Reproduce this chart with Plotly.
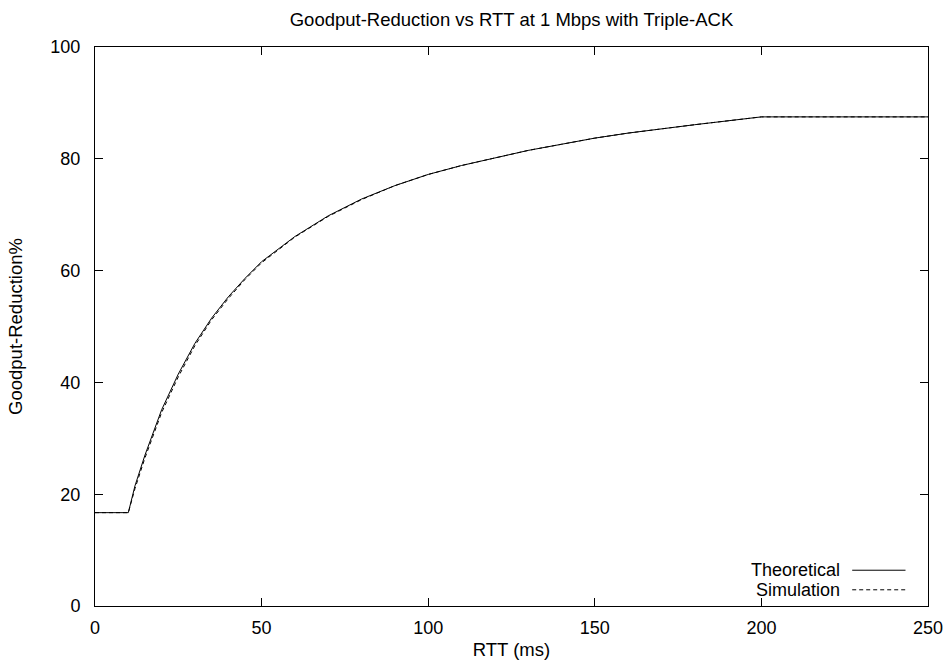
import plotly.graph_objects as go

rtt = [0, 10, 12, 15, 20, 25, 30, 35, 40, 45, 50, 60, 70, 80, 90, 100, 110, 120,
       130, 140, 150, 160, 170, 180, 190, 200, 250]
theoretical = [16.7, 16.7, 21.5, 27.0, 35.1, 41.5, 47.0, 51.5, 55.3, 58.6, 61.6, 66.1,
               69.8, 72.8, 75.2, 77.2, 78.8, 80.2, 81.5, 82.6, 83.7, 84.6, 85.4, 86.1,
               86.8, 87.5, 87.5]
simulation = [16.7, 16.7, 21.0, 26.5, 34.6, 41.0, 46.6, 51.2, 55.0, 58.4, 61.4, 66.0,
              69.7, 72.7, 75.2, 77.2, 78.8, 80.2, 81.5, 82.6, 83.7, 84.6, 85.4, 86.1,
              86.8, 87.5, 87.5]
series_names = ["Theoretical", "Simulation"]

font = "Liberation Sans, Arial, Helvetica, sans-serif"
fs_tick = 18
fs_text = 18.5

fig = go.Figure()
fig.add_trace(go.Scatter(x=rtt, y=theoretical, mode="lines", name=series_names[0],
                         line=dict(color="black", width=1), showlegend=False))
fig.add_trace(go.Scatter(x=rtt, y=simulation, mode="lines", name=series_names[1],
                         line=dict(color="black", width=1, dash="4px,3px"), showlegend=False))

# custom legend (text to the left of the line sample, as in the reference)
for i, (name, dash) in enumerate(zip(series_names, ["solid", "4px,3px"])):
    yy = 0.064 - i * 0.035
    fig.add_annotation(xref="paper", yref="paper", x=0.897, y=yy, text=name,
                       showarrow=False, xanchor="right", yanchor="middle",
                       font=dict(family=font, size=18, color="black"))
    fig.add_shape(type="line", xref="paper", yref="paper", x0=0.909, x1=0.973,
                  y0=yy, y1=yy, line=dict(color="black", width=1, dash=dash))

axis_common = dict(showline=True, linecolor="black", linewidth=1, mirror="ticks",
                   ticks="inside", ticklen=8, tickcolor="black", showgrid=False,
                   zeroline=False, automargin=False,
                   tickfont=dict(family=font, size=fs_tick, color="black"))

fig.update_layout(
    width=949, height=668,
    margin=dict(l=95, r=21, t=47, b=62, autoexpand=False),
    paper_bgcolor="white", plot_bgcolor="white",
    title=dict(text="Goodput-Reduction vs RTT at 1 Mbps with Triple-ACK",
               xref="paper", x=0.5, xanchor="center", y=0.971, yanchor="middle",
               font=dict(family=font, size=fs_text, color="black")),
    xaxis=dict(range=[0, 250], dtick=50, ticklabelstandoff=5,
               title=dict(text="RTT (ms)", standoff=6,
                          font=dict(family=font, size=fs_text, color="black")),
               **axis_common),
    yaxis=dict(range=[0, 100], dtick=20, ticklabelstandoff=10,
               title=dict(text="Goodput-Reduction%", standoff=22,
                          font=dict(family=font, size=fs_text, color="black")),
               **axis_common),
)

fig.write_html("out.html")
